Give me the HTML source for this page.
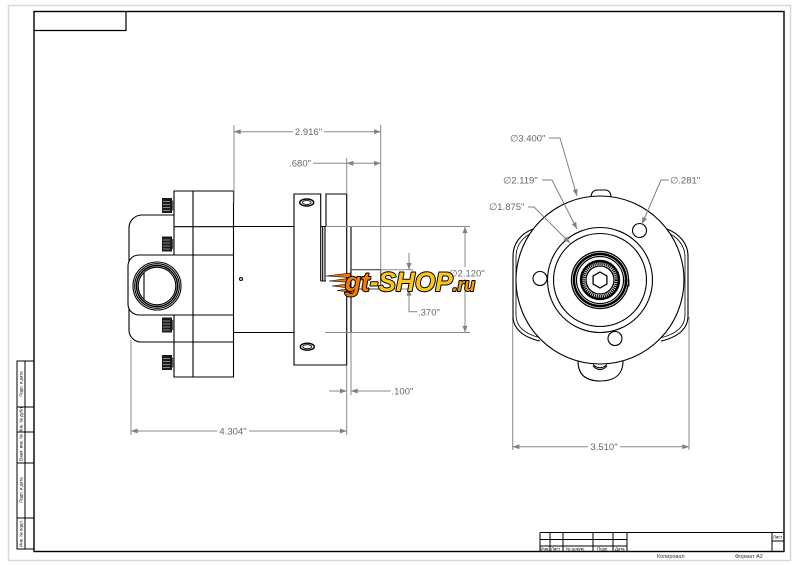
<!DOCTYPE html>
<html><head><meta charset="utf-8"><style>
html,body{margin:0;padding:0;background:#fff;}
svg{display:block;}
.d{font-family:"Liberation Sans","DejaVu Sans",sans-serif;font-size:9.5px;fill:#666;}
.s{font-family:"Liberation Sans","DejaVu Sans",sans-serif;font-size:4.3px;fill:#000;}
.t{font-family:"Liberation Sans","DejaVu Sans",sans-serif;font-size:5.5px;fill:#333;}
</style></head><body>
<svg width="800" height="565" viewBox="0 0 800 565" xmlns="http://www.w3.org/2000/svg">
<defs>
<marker id="a" viewBox="0 0 8 6" refX="8" refY="3" markerWidth="7" markerHeight="5" markerUnits="userSpaceOnUse" orient="auto-start-reverse"><path d="M0 0L8 3L0 6z" fill="#808080"/></marker>
</defs>
<rect width="800" height="565" fill="#fff"/>
<rect x="8.5" y="5.5" width="782" height="555" fill="none" stroke="#d8d8d8" stroke-width="1.5"/>
<rect x="34" y="11.5" width="750" height="540" fill="none" stroke="#000" stroke-width="1.4"/>
<path d="M34 30.5H126V11.5" fill="none" stroke="#000" stroke-width="1.2"/>

<!-- left stamps -->
<g fill="none" stroke="#000" stroke-width="1">
<rect x="17" y="361" width="17" height="188"/>
<path d="M25 361V549M17 407H34M17 432H34M17 463H34M17 518H34"/>
</g>
<g class="s" text-anchor="middle">
<text transform="translate(22.5 384) rotate(-90)">Подп. и дата</text>
<text transform="translate(22.5 419.5) rotate(-90)">Инв. № дубл.</text>
<text transform="translate(22.5 447.5) rotate(-90)">Взам. инв. №</text>
<text transform="translate(22.5 490) rotate(-90)">Подп. и дата</text>
<text transform="translate(22.5 533.5) rotate(-90)">Инв. № подл.</text>
</g>

<!-- title block -->
<g fill="none" stroke="#000" stroke-width="1">
<path d="M540 532.5H784M540 532.5V551.5M550 532.5V551.5M563 532.5V551.5M593 532.5V551.5M613 532.5V551.5M627 532.5V551.5M772 532.5V551.5M540 539.5H627M540 546H627M772 541H784"/>
</g>
<g class="s">
<text x="540.5" y="550.3">Изм.</text>
<text x="551" y="550.3">Лист</text>
<text x="566" y="550.3">№ докум.</text>
<text x="597" y="550.3">Подп.</text>
<text x="615" y="550.3">Дата</text>
<text x="773" y="538.5">Лист</text>
</g>
<text class="t" x="657" y="558">Копировал</text>
<text class="t" x="735" y="558">Формат A2</text>

<!-- LEFT VIEW -->
<g fill="none" stroke="#000" stroke-width="1.1">
<path d="M174 215H142A13 13 0 0 0 129 228V330A12 12 0 0 0 141 342H174"/>
<path d="M233.5 255H139A11 11 0 0 0 128 266V304A11 11 0 0 0 139 315H233.5" fill="#fff"/>
<path d="M174 255V191H233.5V377H174V315M193 191V377M174 226.7H233.5M174 342H233.5"/>
<circle cx="157" cy="286" r="24"/>
<circle cx="157" cy="286" r="22.3"/>
<circle cx="157" cy="286" r="20.5" stroke-width="1.5"/>
<circle cx="157" cy="286" r="18.8"/>
<path d="M144 272.5V299.5"/>
<path d="M233.5 226.5H294M233.5 332.5H294"/>
<circle cx="241" cy="279" r="1.5"/>
<path d="M320.7 281V194H294V365H346.7V194H326V226.5H320.7" fill="#fff"/>
<path d="M322.7 226.5V281M325 226.5V281M320.7 281H326"/>
<path d="M351 226.5V333"/>
<path d="M351 269.7H380.7V289H351" stroke="#444"/>
<ellipse cx="306.7" cy="202.5" rx="7" ry="3.5" stroke-width="1.4"/>
<ellipse cx="306.7" cy="202.5" rx="4.5" ry="2" stroke-width="0.8"/>
<ellipse cx="307.3" cy="346.7" rx="7" ry="3.5" stroke-width="1.4"/>
<ellipse cx="307.3" cy="346.7" rx="4.5" ry="2" stroke-width="0.8"/>
</g>
<!-- bolts -->
<g>
<rect x="162" y="198" width="10" height="15" fill="#1a1a1a"/>
<rect x="162" y="236.5" width="10" height="15" fill="#1a1a1a"/>
<rect x="162" y="317.5" width="10" height="15" fill="#1a1a1a"/>
<rect x="162" y="355" width="10" height="15" fill="#1a1a1a"/>
<g fill="#555"><rect x="172" y="200.5" width="2" height="10"/><rect x="172" y="239" width="2" height="10"/><rect x="172" y="320" width="2" height="10"/><rect x="172" y="357.5" width="2" height="10"/></g>
<path d="M163 201.5H170M163 204.5H170M163 207.5H170M163 210.5H170M163 240H170M163 243H170M163 246H170M163 249H170M163 321H170M163 324H170M163 327H170M163 330H170M163 358.5H170M163 361.5H170M163 364.5H170M163 367.5H170" stroke="#aaa" stroke-width="0.8"/>
</g>

<!-- dims left -->
<g fill="none" stroke="#888" stroke-width="1">
<path d="M234 125V203M380.7 125V269.7"/>
<path d="M234 131.7H380.7" marker-start="url(#a)" marker-end="url(#a)"/>
<path d="M346.7 158V194"/>
<path d="M313 163.3H346.7"/>
<path d="M346.7 163.3H380.7" marker-start="url(#a)" marker-end="url(#a)"/>
<path d="M326 226.5H470M325 332.5H470"/>
<path d="M465 226.5V332.5" marker-start="url(#a)" marker-end="url(#a)"/>
<path d="M380.7 269.7H413M380.7 289H413"/>
<path d="M409 253V269.7" marker-end="url(#a)"/>
<path d="M409 311.7V289" marker-end="url(#a)"/>
<path d="M409 311.7H417"/>
<path d="M351 333V395M346.7 366V435M131 340V435"/>
<path d="M329 391H346.7" marker-end="url(#a)"/>
<path d="M390.7 391H351" marker-end="url(#a)"/>
<path d="M131 431H346.7" marker-start="url(#a)" marker-end="url(#a)"/>
<path d="M512.7 317V450M689 317V450"/>
<path d="M512.7 446.7H689" marker-start="url(#a)" marker-end="url(#a)"/>
</g>
<g fill="#fff">
<rect x="293" y="126" width="31" height="11"/>
<rect x="217" y="426" width="32" height="11"/>
<rect x="588" y="441" width="32" height="11"/>
<rect x="446" y="267" width="42" height="12"/>
</g>
<g class="d">
<text x="308.5" y="135" text-anchor="middle">2.916"</text>
<text x="311" y="166.5" text-anchor="end">.680"</text>
<text x="467" y="276.5" text-anchor="middle">∅2.120"</text>
<text x="418" y="315.5">.370"</text>
<text x="391.5" y="394.5">.100"</text>
<text x="233" y="434.5" text-anchor="middle">4.304"</text>
<text x="604" y="450" text-anchor="middle">3.510"</text>
</g>

<!-- FRONT VIEW -->
<g fill="none" stroke="#000" stroke-width="1.1">
<path d="M533 229C520 234 513 244 513 256V316C513 328 522 337 540 341"/>
<path d="M535 231.5C523 236 516 245 516 257V315C516 326 524 334 541 338" stroke-width="0.8"/>
<path d="M667 229C680 234 688 244 688 256V316C688 328 679 337 661 341"/>
<path d="M665 231.5C677 236 685 245 685 257V315C685 326 677 334 660 338" stroke-width="0.8"/>
<path d="M578 361C578 375 586 381 600 381C614 381 623 375 623 361"/>
<path d="M593 366Q600 373 607 366"/>
<path d="M591 198Q591 190 598 190H605Q611 190 611 198"/>
<circle cx="600" cy="280" r="84" fill="#fff"/>
<path d="M593 364.5Q600 371 607 364.5" stroke-width="0.9"/>
<circle cx="600" cy="280" r="52.5"/>
<circle cx="600" cy="280" r="46.5"/>
<circle cx="639.5" cy="230.5" r="7"/>
<circle cx="540" cy="278.5" r="7"/>
<circle cx="615" cy="338.5" r="7"/>
<circle cx="600" cy="280" r="28.5" stroke-width="1.3"/>
<circle cx="600" cy="280" r="26" stroke-width="2.4"/>
<circle cx="600" cy="280" r="23.5" stroke-width="1.2"/>
<circle cx="600" cy="280" r="19" stroke-width="2.4"/>
<circle cx="600" cy="280" r="16.5" stroke-width="3" stroke-dasharray="1.2 0.8"/>
<circle cx="600" cy="280" r="14" stroke-width="1.3"/>
<polygon points="600,272 606.9,276 606.9,284 600,288 593.1,284 593.1,276" stroke-width="1.3"/>
<rect x="625" y="280" width="4" height="6" stroke-width="0.8"/>
</g>
<g fill="none" stroke="#808080" stroke-width="1">
<path d="M549 138H560L577 196" marker-end="url(#a)"/>
<path d="M542 180H552L577 229" marker-end="url(#a)"/>
<path d="M528 207H534L570 243" marker-end="url(#a)"/>
<path d="M669 180H661L642 224" marker-end="url(#a)"/>
</g>
<g class="d">
<text x="510" y="141.5">∅3.400"</text>
<text x="503" y="183.5">∅2.119"</text>
<text x="489" y="210">∅1.875"</text>
<text x="670" y="183.5">∅.281"</text>
</g>

<!-- LOGO -->
<g stroke="#000" stroke-width="0.6">
<path d="M326 276L351 273L350 277.5Z" fill="#f07800"/>
<path d="M329 281L352 278L351 282.5Z" fill="#f07800"/>
<path d="M332 286L351 283.5L350 288Z" fill="#f07800"/>
<path d="M337 290.5L351 288.5L350 292Z" fill="#f07800"/>
</g>
<text x="345" y="291" textLength="130" lengthAdjust="spacingAndGlyphs" font-family="Liberation Sans, sans-serif" font-weight="bold" font-style="italic" font-size="27" stroke="#000" stroke-width="2" paint-order="stroke" stroke-linejoin="round"><tspan fill="#f27a00">gt</tspan><tspan fill="#ffc61a">-SHOP</tspan><tspan fill="#f5a000" font-size="18">.ru</tspan></text>
</svg>
</body></html>
